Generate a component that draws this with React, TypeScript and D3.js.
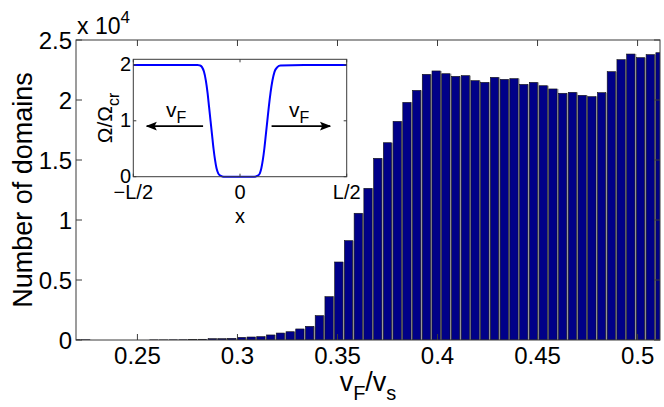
import React from "react";
import * as d3 from "d3";

// ---- main histogram data ----
const binStart = 0.2193; // first bin centre
const binWidth = 0.004865;
const counts = [
  20, 20, 0, 0, 0, 0, 0, 0, 10, 10, 15, 20, 35, 60,
  110, 110, 140, 220, 250, 280, 420, 580, 690, 920, 1140, 2030, 3610, 6500, 8280, 10560,
  12640, 15140, 16440, 18220, 19800, 20800, 22140, 22420, 22190, 21970, 22030, 21610, 21470,
  21890, 21720, 21780, 21300, 21470, 21190, 20920, 20560, 20640, 20390, 20280, 20610, 22360,
  23360, 23830, 23530, 23780, 23940,
];
const xTicks = [0.25, 0.3, 0.35, 0.4, 0.45, 0.5];
const yTicks = [0, 5000, 10000, 15000, 20000, 25000];
const yTickLabels = ["0", "0.5", "1", "1.5", "2", "2.5"];

// ---- inset profile (x in units of L) ----
const insetX = [-0.5, -0.3, -0.2, -0.188, -0.178, -0.169, -0.16, -0.152, -0.145, -0.138, -0.131, -0.124, -0.117, -0.11, -0.102, -0.093, -0.083, -0.07, 0, 0.06, 0.074, 0.084, 0.093, 0.1, 0.107, 0.114, 0.121, 0.128, 0.135, 0.143, 0.152, 0.162, 0.175, 0.19, 0.3, 0.5];
const insetY = [2, 2, 2, 1.99, 1.96, 1.88, 1.72, 1.5, 1.25, 1.0, 0.75, 0.5, 0.3, 0.15, 0.06, 0.02, 0.005, 0, 0, 0, 0.005, 0.02, 0.06, 0.15, 0.3, 0.5, 0.75, 1.0, 1.25, 1.5, 1.72, 1.88, 1.96, 1.99, 2, 2];
const insetXTicks = [-0.5, 0, 0.5];
const insetXTickLabels = ["\u2212L/2", "0", "L/2"];
const insetYTicks = [0, 1, 2];
// arrows (data coords of inset): [x1, x2, y]
const arrowLeft = [-0.173, -0.437, 0.905];
const arrowRight = [0.148, 0.422, 0.905];

const FONT = "'Liberation Sans', Arial, Helvetica, sans-serif";
const AX = "#3a3a3a";

export default function App() {
  const W = 664, H = 407;
  const x = d3.scaleLinear().domain([binStart, binStart + binWidth * (counts.length - 1)]).range([76, 660]);
  const y = d3.scaleLinear().domain([0, 25000]).range([340, 40]);
  const slot = x(binStart + binWidth) - x(binStart);
  const bw = slot * 0.85;

  const ix = d3.scaleLinear().domain([-0.5, 0.5]).range([133.3, 346.7]);
  const iy = d3.scaleLinear().domain([0, 2.1]).range([176.7, 59.3]);
  const line = d3.line<number>().x((d, i) => ix(insetX[i])).y((d) => iy(d)).curve(d3.curveMonotoneX);

  const [x0, x1] = x.range();
  const [yb, yt] = y.range();
  const tl = 6;
  const itl = 3;

  return (
    <svg width={W} height={H} style={{ position: "absolute", left: 0, top: 0, background: "#fff" }} fontFamily={FONT}>
      <defs>
        <clipPath id="plotclip">
          <rect x={x0} y={yt} width={x1 - x0} height={yb - yt} />
        </clipPath>
        <marker id="ah" viewBox="0 0 10 10" refX="9" refY="5" markerWidth="7" markerHeight="7" orient="auto-start-reverse">
          <path d="M0,1 L10,5 L0,9 L2,5 Z" fill="#000" />
        </marker>
      </defs>
      <rect x={0} y={0} width={W} height={H} fill="#fff" />
      <g clipPath="url(#plotclip)">
        {counts.map((c, i) => {
          const cx = x(binStart + i * binWidth);
          const top = y(c);
          return (
            <g key={i}>
              <rect x={cx + bw / 2 + 0.3} y={top} width={1.2} height={yb - top} fill="#a8a8a8" />
              <rect x={cx - bw / 2} y={top} width={bw} height={yb - top} fill="#000088" stroke="#111" strokeWidth={0.6} />
            </g>
          );
        })}
      </g>
      {/* axes box */}
      <rect x={x0} y={yt} width={x1 - x0} height={yb - yt} fill="none" stroke={AX} strokeWidth={1} />
      {xTicks.map((t) => (
        <g key={t}>
          <line x1={x(t)} x2={x(t)} y1={yb} y2={yb - tl} stroke={AX} />
          <line x1={x(t)} x2={x(t)} y1={yt} y2={yt + tl} stroke={AX} />
          <text x={x(t)} y={364} textAnchor="middle" fontSize={24}>{String(t)}</text>
        </g>
      ))}
      {yTicks.map((t, i) => (
        <g key={t}>
          <line x1={x0} x2={x0 + tl} y1={y(t)} y2={y(t)} stroke={AX} />
          <line x1={x1} x2={x1 - tl} y1={y(t)} y2={y(t)} stroke={AX} />
          <text x={72} y={y(t) + 8.5} textAnchor="end" fontSize={24}>{yTickLabels[i]}</text>
        </g>
      ))}
      <text x={77} y={34} fontSize={23}>x 10<tspan dy={-11} fontSize={17}>4</tspan></text>
      <text transform={`translate(32,${(yt + yb) / 2}) rotate(-90)`} textAnchor="middle" fontSize={27}>Number of domains</text>
      <text x={(x0 + x1) / 2} y={391} textAnchor="middle" fontSize={27}>
        v<tspan dy={9} fontSize={20}>F</tspan><tspan dy={-9}>/v</tspan><tspan dy={9} fontSize={20}>s</tspan>
      </text>

      {/* inset */}
      <rect x={133.3} y={59.3} width={213.4} height={117.4} fill="#fff" />
      <path d={line(insetY) || ""} fill="none" stroke="#0000ff" strokeWidth={2} />
      <rect x={133.3} y={59.3} width={213.4} height={117.4} fill="none" stroke={AX} strokeWidth={1} />
      {insetXTicks.map((t, i) => (
        <g key={t}>
          <line x1={ix(t)} x2={ix(t)} y1={176.7} y2={176.7 - itl} stroke={AX} />
          <line x1={ix(t)} x2={ix(t)} y1={59.3} y2={59.3 + itl} stroke={AX} />
          <text x={ix(t)} y={199} textAnchor="middle" fontSize={20}>{insetXTickLabels[i]}</text>
        </g>
      ))}
      {insetYTicks.map((t) => (
        <g key={t}>
          <line x1={133.3} x2={133.3 + itl} y1={iy(t)} y2={iy(t)} stroke={AX} />
          <line x1={346.7} x2={346.7 - itl} y1={iy(t)} y2={iy(t)} stroke={AX} />
          <text x={131} y={iy(t) + 6.5} textAnchor="end" fontSize={20}>{String(t)}</text>
        </g>
      ))}
      <text x={240} y={222.5} textAnchor="middle" fontSize={20}>x</text>
      <text transform={`translate(112,118) rotate(-90)`} textAnchor="middle" fontSize={21}>
        Ω/Ω<tspan dy={7} fontSize={16}>cr</tspan>
      </text>
      <line x1={ix(arrowLeft[0])} x2={ix(arrowLeft[1])} y1={iy(arrowLeft[2])} y2={iy(arrowLeft[2])} stroke="#000" strokeWidth={1.6} markerEnd="url(#ah)" />
      <line x1={ix(arrowRight[0])} x2={ix(arrowRight[1])} y1={iy(arrowRight[2])} y2={iy(arrowRight[2])} stroke="#000" strokeWidth={1.6} markerEnd="url(#ah)" />
      <text x={166} y={117} fontSize={21}>v<tspan dy={6} fontSize={16}>F</tspan></text>
      <text x={289} y={117} fontSize={21}>v<tspan dy={6} fontSize={16}>F</tspan></text>
    </svg>
  );
}
